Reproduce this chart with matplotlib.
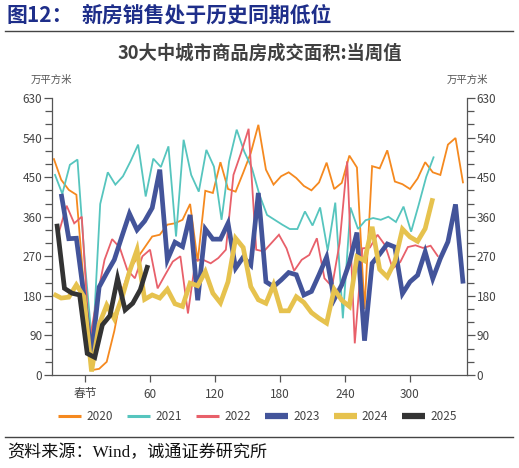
import matplotlib
matplotlib.use("Agg")
import matplotlib.pyplot as plt
from matplotlib.lines import Line2D
from matplotlib.ticker import MultipleLocator
import numpy as np

plt.rcParams['font.family'] = ['Noto Sans CJK SC', 'DejaVu Sans']

years = ["2020", "2021", "2022", "2023", "2024", "2025"]
colors = ["#F5891F", "#56C5BE", "#E8606A", "#43549A", "#E6C24E", "#333333"]
widths = [1.3, 1.3, 1.3, 3.4, 3.4, 3.4]
start_days = [-29, -28, -24, -22, -29, -26]
step_days = 7

v2020 = [493, 444, 421, 410, 200, 11, 14, 30, 100, 190, 240, 265, 290, 315, 319,
         342, 345, 353, 389, 258, 419, 414, 484, 423, 417, 460, 505, 569, 467, 433,
         452, 461, 448, 430, 420, 438, 483, 423, 437, 499, 472, 150, 475, 470, 511,
         440, 434, 423, 447, 484, 461, 455, 524, 539, 436]
v2021 = [457, 412, 478, 490, 250, 60, 389, 461, 433, 452, 486, 524, 406, 492, 473,
         520, 315, 535, 455, 417, 512, 474, 353, 486, 558, 508, 471, 410, 364, 353,
         342, 332, 332, 372, 340, 381, 283, 392, 129, 381, 332, 352, 357, 353, 360,
         348, 383, 326, 387, 451, 497]
v2022 = [326, 385, 345, 360, 75, 175, 262, 309, 290, 239, 220, 270, 285, 197, 228,
         258, 270, 140, 262, 262, 254, 266, 285, 455, 505, 560, 285, 281, 300, 319,
         288, 237, 262, 273, 311, 220, 201, 300, 486, 72, 288, 290, 319, 295, 242,
         257, 291, 295, 289, 294, 269]
v2023 = [412, 310, 311, 180, 46, 200, 232, 262, 315, 367, 330, 350, 380, 467, 262,
         302, 292, 364, 170, 332, 309, 309, 345, 243, 268, 250, 414, 212, 201, 216,
         233, 228, 182, 190, 228, 268, 172, 205, 255, 324, 78, 254, 275, 298, 291,
         185, 212, 227, 280, 219, 265, 303, 388, 208]
v2024 = [184, 175, 177, 205, 178, 8, 115, 159, 128, 175, 235, 285, 172, 182, 175,
         195, 162, 156, 209, 203, 235, 186, 164, 212, 311, 290, 201, 171, 163, 205,
         146, 146, 178, 165, 142, 129, 118, 195, 170, 156, 269, 260, 337, 240, 223,
         258, 332, 314, 304, 333, 402]
v2025 = [344, 197, 186, 182, 49, 40, 114, 135, 220, 148, 163, 194, 250]
series = [v2020, v2021, v2022, v2023, v2024, v2025]

xticks = [0, 60, 120, 180, 240, 300]
xticklabels = ["春节", "60", "120", "180", "240", "300"]
yticks = [0, 90, 180, 270, 360, 450, 540, 630]

W, H = 519, 468
fig = plt.figure(figsize=(W / 100, H / 100), dpi=100)
ax = fig.add_axes([52 / W, 1 - 375 / H, (467 - 52) / W, (375 - 98) / H])

for vals, c, lw, s in zip(series, colors, widths, start_days):
    x = s + step_days * np.arange(len(vals))
    ax.plot(x, vals, color=c, lw=lw, solid_joinstyle='miter', solid_capstyle='butt')

ax.set_xlim(-30.5, 352.6)
ax.set_ylim(0, 630)
ax.set_xticks(xticks)
ax.set_xticklabels(xticklabels)
ax.set_yticks(yticks)
ax.yaxis.set_minor_locator(MultipleLocator(30))
ax.spines['top'].set_visible(False)
for sp in ['left', 'right', 'bottom']:
    ax.spines[sp].set_color('#555555')
    ax.spines[sp].set_linewidth(0.9)
ax.tick_params(axis='both', which='both', colors='#555555', labelcolor='#444444',
               labelsize=8.5, width=0.9)
ax.tick_params(axis='y', which='major', length=6, pad=1, left=True, right=True,
               labelleft=True, labelright=True)
ax.tick_params(axis='y', which='minor', length=5, left=True, right=True)
ax.tick_params(axis='x', which='major', length=5, pad=4)

fig.text(7 / W, 1 - 15 / H, "图12：", color="#1E2E8A", fontsize=15, fontweight='bold',
         va='center', ha='left')
fig.text(82 / W, 1 - 15 / H, "新房销售处于历史同期低位", color="#1E2E8A", fontsize=15,
         fontweight='bold', va='center', ha='left')
fig.add_artist(Line2D([5 / W, 513 / W], [1 - 31 / H, 1 - 31 / H], color='#444444', lw=1.0))
fig.text(260 / W, 1 - 53 / H, "30大中城市商品房成交面积:当周值", color="#404040",
         fontsize=13.2, fontweight='bold', va='center', ha='center')
fig.text(51 / W, 1 - 80 / H, "万平方米", color="#555555", fontsize=7.5, va='center', ha='center')
fig.text(467 / W, 1 - 80 / H, "万平方米", color="#555555", fontsize=7.5, va='center', ha='center')

handles = [Line2D([], [], color=c, lw=(2.2 if lw < 2 else 4.5), solid_capstyle='butt')
           for c, lw in zip(colors, widths)]
fig.legend(handles, years, loc='center', bbox_to_anchor=(257.5 / W, 1 - 416.7 / H),
           ncol=6, frameon=False, fontsize=8.5, handlelength=1.95, handletextpad=0.45,
           columnspacing=1.2, labelcolor='#444444')

fig.add_artist(Line2D([5 / W, 513 / W], [1 - 437 / H, 1 - 437 / H], color='#444444', lw=1.0))
fig.text(7 / W, 1 - 453 / H, "资料来源：Wind，诚通证券研究所", color="#111111", fontsize=12.3,
         va='center', ha='left', family=['Liberation Serif', 'Noto Sans CJK SC'])

fig.savefig("out.png", dpi=100)
